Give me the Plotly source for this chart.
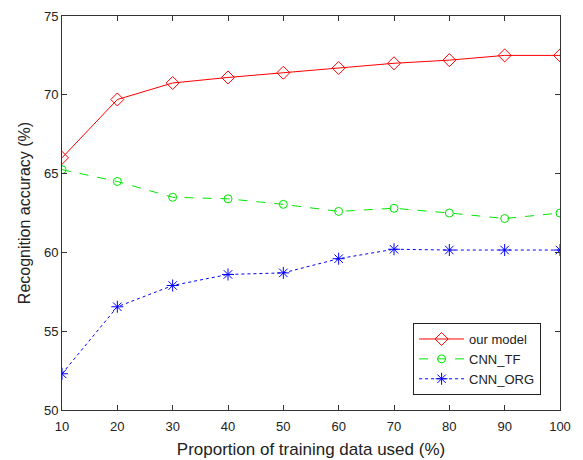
import plotly.graph_objects as go

proportion = [10, 20, 30, 40, 50, 60, 70, 80, 90, 100]
our_model = [66.0, 69.7, 70.75, 71.1, 71.4, 71.7, 72.0, 72.2, 72.5, 72.5]
cnn_tf = [65.25, 64.5, 63.5, 63.4, 63.05, 62.6, 62.8, 62.5, 62.15, 62.5]
cnn_org = [52.3, 56.55, 57.9, 58.6, 58.7, 59.6, 60.2, 60.15, 60.15, 60.15]

y_ticks = [50, 55, 60, 65, 70, 75]
x_ticks = [10, 20, 30, 40, 50, 60, 70, 80, 90, 100]

fig = go.Figure()
fig.add_trace(go.Scatter(
    x=proportion, y=our_model, name="our model", mode="lines+markers",
    line=dict(color="#ff0000", width=1, dash="solid"),
    marker=dict(symbol="diamond-open", size=10, color="#ff0000", line=dict(width=1))))
fig.add_trace(go.Scatter(
    x=proportion, y=cnn_tf, name="CNN_TF", mode="lines+markers",
    line=dict(color="#00e600", width=1, dash="dash"),
    marker=dict(symbol="circle-open", size=8, color="#00e600", line=dict(width=1))))
fig.add_trace(go.Scatter(
    x=proportion, y=cnn_org, name="CNN_ORG", mode="lines+markers",
    line=dict(color="#0000ff", width=1, dash="dot"),
    marker=dict(symbol="asterisk-open", size=10, color="#0000ff", line=dict(width=1, color="#0000ff"))))

font = "Liberation Sans, Arial, sans-serif"
fig.update_layout(
    width=575, height=452,
    margin=dict(l=54, r=23, t=8, b=50, autoexpand=False),
    paper_bgcolor="white", plot_bgcolor="white",
    font=dict(family=font, size=13, color="#222222"),
    showlegend=True,
    legend=dict(x=0.705, y=0.038, xanchor="left", yanchor="bottom",
                bgcolor="white", bordercolor="#222222", borderwidth=1,
                font=dict(size=13, color="#222222"), tracegroupgap=0,
                itemwidth=45),
    xaxis=dict(range=[10, 100], tickvals=x_ticks, ticks="inside", ticklen=5,
               showline=True, linecolor="#333333", linewidth=1, mirror="ticks",
               showgrid=False, zeroline=False, tickcolor="#333333",
               ticklabelstandoff=4,
               title=dict(text="Proportion of training data used (%)", font=dict(size=17), standoff=10)),
    yaxis=dict(range=[50, 75], tickvals=y_ticks, ticks="inside", ticklen=5,
               showline=True, linecolor="#333333", linewidth=1, mirror="ticks",
               showgrid=False, zeroline=False, tickcolor="#333333",
               title=dict(text="Recognition accuracy (%)", font=dict(size=16), standoff=9)),
)
fig.write_html("out.html")
